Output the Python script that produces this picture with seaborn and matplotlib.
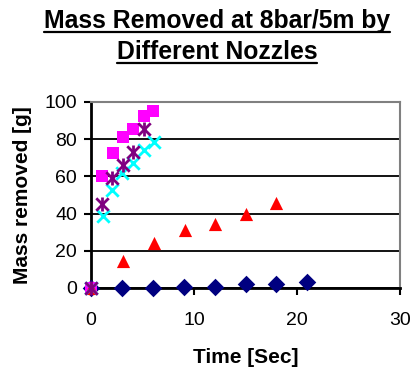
import matplotlib
matplotlib.use("Agg")
import matplotlib.pyplot as plt
import seaborn as sns
import pandas as pd
from matplotlib.lines import Line2D

# ---- data ----
t_diamond = [0, 3, 6, 9, 12, 15, 18, 21]
m_diamond = [0, 0, 0, 0.8, 0.8, 2, 2, 3]

t_square = [0, 1.1, 2.1, 3.1, 4.05, 5.1, 6.05]
m_square = [0, 60, 72.5, 81, 85.5, 92.5, 95]

t_triangle = [0, 3.1, 6.1, 9.1, 12, 15, 18]
m_triangle = [0, 14.5, 24, 31, 34.5, 40, 45.5]

t_cross = [0, 1.2, 2.05, 3.05, 4.05, 5.1, 6.1]
m_cross = [0, 38.5, 52.5, 62, 67, 74, 78.5]

t_star = [0, 1.1, 2.0, 3.1, 4.05, 5.1]
m_star = [0, 45, 59, 66, 73, 85.5]

title_lines = ["Mass Removed at 8bar/5m by", "Different Nozzles"]
x_label = "Time [Sec]"
y_label = "Mass removed [g]"
x_ticks = [0, 10, 20, 30]
y_ticks = [0, 20, 40, 60, 80, 100]

# ---- style ----
sns.set_style("white")
plt.rcParams['font.family'] = ['Liberation Sans', 'DejaVu Sans']

W, H = 411, 371
fig = plt.figure(figsize=(W / 100, H / 100), dpi=100)
ax = fig.add_axes([91 / W, 1 - 288 / H, (400 - 91) / W, (288 - 102) / H])

def df(t, m):
    return pd.DataFrame({"t": t, "m": m})

common = dict(ax=ax, x="t", y="m", zorder=3, clip_on=False)
sns.scatterplot(data=df(t_diamond, m_diamond), marker="D", color="#000080",
                s=80, edgecolor="#000080", linewidth=0, **common)
sns.scatterplot(data=df(t_square, m_square), marker="s", color="#FF00FF",
                s=80, edgecolor="#FF00FF", linewidth=0, **common)
sns.scatterplot(data=df(t_triangle, m_triangle), marker="^", color="#FF0000",
                s=90, edgecolor="#FF0000", linewidth=0, **common)
sns.scatterplot(data=df(t_cross, m_cross), marker="x", color="#00FFFF",
                s=80, linewidth=2, **common)
sns.scatterplot(data=df(t_star, m_star), marker="x", color="#800080",
                s=80, linewidth=2, **common)
sns.scatterplot(data=df(t_star, m_star), marker="|", color="#800080",
                s=100, linewidth=2, **common)

ax.set_xlim(0, 30)
ax.set_ylim(0, 100)
ax.set_xticks(x_ticks)
ax.set_yticks(y_ticks)
ax.grid(axis="y", color="black", linewidth=1.3)
ax.set_axisbelow(True)
for side in ["top", "right"]:
    ax.spines[side].set_visible(True)
    ax.spines[side].set_color("#808080")
    ax.spines[side].set_linewidth(1.5)
for side in ["left", "bottom"]:
    ax.spines[side].set_color("black")
    ax.spines[side].set_linewidth(2)
ax.tick_params(axis="both", direction="out", length=5, width=1.5, color="black",
               labelsize=14, labelcolor="black", pad=5, left=True, bottom=True)
ax.tick_params(axis="x", pad=12)
ax.set_xlabel(x_label, fontsize=15, fontweight="bold", labelpad=14, color="black")
ax.set_ylabel(y_label, fontsize=15, fontweight="bold", labelpad=9, color="black")

# title with underline
fig.canvas.draw()
renderer = fig.canvas.get_renderer()
baselines = [28, 59]
for txt, by in zip(title_lines, baselines):
    t = fig.text(217 / W, 1 - by / H, txt, ha="center", va="baseline",
                 fontsize=17.8, fontweight="bold", color="black")
    bb = t.get_window_extent(renderer=renderer)
    uy = 1 - (by + 4) / H
    fig.add_artist(Line2D([bb.x0 / W, bb.x1 / W], [uy, uy],
                          transform=fig.transFigure, color="black", linewidth=1.6))

fig.savefig("out.png", dpi=100)
